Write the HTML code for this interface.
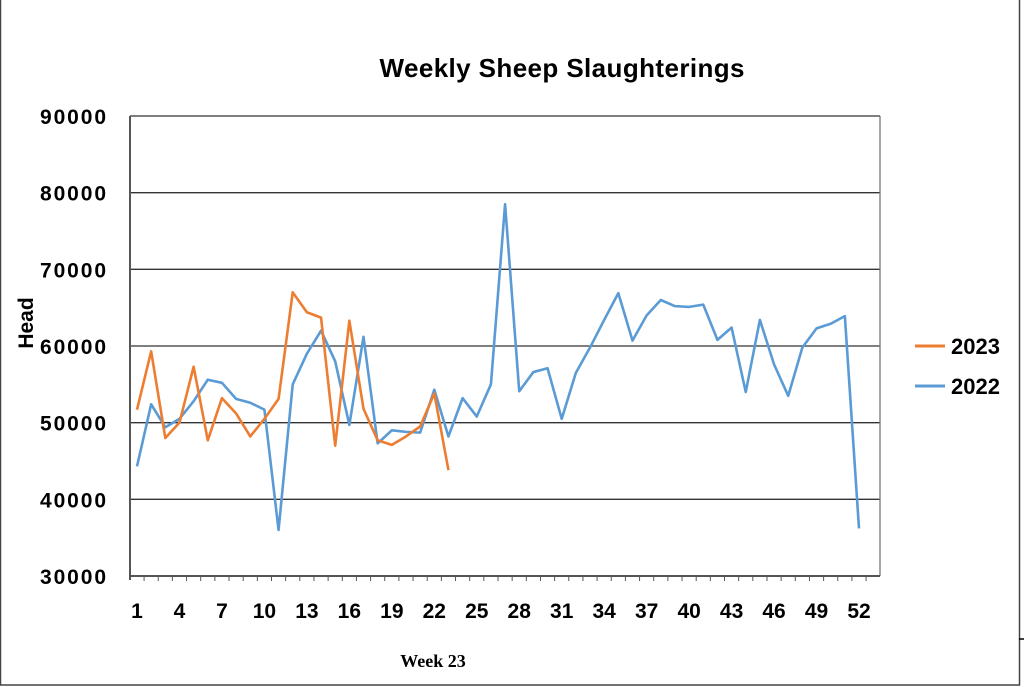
<!DOCTYPE html>
<html><head><meta charset="utf-8"><style>
body{margin:0;background:#fff;}
svg{display:block;font-family:"Liberation Sans",sans-serif;}
</style></head><body>
<svg id="c" width="1024" height="687">
<rect x="0.5" y="-1" width="1019" height="686" fill="none" stroke="#444" stroke-width="1.5"/>
<line x1="1019" y1="639" x2="1024" y2="639" stroke="#000" stroke-width="1.5"/>
<text x="562" y="77" font-size="26" font-weight="bold" text-anchor="middle" textLength="365">Weekly Sheep Slaughterings</text>
<text transform="translate(33,323) rotate(-90)" font-size="21" font-weight="bold" text-anchor="middle">Head</text>
<text x="433" y="667" font-size="18" font-weight="bold" font-family="Liberation Serif,serif" text-anchor="middle">Week 23</text>
<g id="grid"></g><g id="ticks"></g><g id="series"></g>
<g>
<line x1="915" y1="346" x2="945" y2="346" stroke="#ED7D31" stroke-width="3"/>
<text x="951" y="354" font-size="22" font-weight="bold">2023</text>
<line x1="915" y1="386" x2="945" y2="386" stroke="#5B9BD5" stroke-width="3"/>
<text x="951" y="394" font-size="22" font-weight="bold">2022</text>
</g>
</svg>
<script>
const yTicks=[30000,40000,50000,60000,70000,80000,90000];
const xTickLabels=[1,4,7,10,13,16,19,22,25,28,31,34,37,40,43,46,49,52];
const s2023=[51700,59300,48000,50000,57300,47700,53200,51200,48200,50500,53100,67000,64400,63700,47000,63300,51800,47700,47100,48200,49500,53800,43800];
const s2022=[44300,52400,49400,50500,52800,55600,55200,53100,52600,51700,36000,55000,59000,62000,58000,49700,61200,47300,49000,48800,48700,54300,48200,53200,50800,55000,78500,54100,56600,57100,50500,56500,59800,63400,66900,60700,64000,66000,65200,65100,65400,60800,62400,54000,63400,57600,53500,59800,62300,62900,63900,36200];
const NS='http://www.w3.org/2000/svg';
const L=130,R=880,T=116,B=576;
const y=v=>B-(v-30000)/60000*(B-T);
const x=w=>137+(w-1)*(859-137)/51;
function mk(t,a,p){const e=document.createElementNS(NS,t);for(const k in a)e.setAttribute(k,a[k]);p.appendChild(e);return e;}
const g=document.getElementById('grid'),tk=document.getElementById('ticks'),sg=document.getElementById('series');
yTicks.forEach(v=>{
 const ln=mk('line',{x1:L,x2:R,y1:y(v),y2:y(v),stroke:'#333','stroke-width':1.3},g);
 
 
 const t=mk('text',{x:106,y:y(v)+8,'font-size':21,'font-weight':'bold','text-anchor':'end',textLength:66},tk);
 t.textContent=v;
 
 
});
mk('line',{x1:R,x2:R,y1:T,y2:B,stroke:'#777','stroke-width':1.3},g);
const ya=mk('line',{x1:L,x2:L,y1:T,y2:B+4,stroke:'#555','stroke-width':2},g);


const xa=mk('line',{x1:L,x2:R,y1:B,y2:B,stroke:'#555','stroke-width':2},g);


for(let w=1;w<=53;w++){const xx=137+(w-1.5)*(859-137)/51;if(xx>=L&&xx<=R+1)mk('line',{x1:xx,x2:xx,y1:B,y2:B+5,stroke:'#555','stroke-width':1},g);}
xTickLabels.forEach(w=>{
 const t=mk('text',{x:x(w),y:618,'font-size':21,'font-weight':'bold','text-anchor':'middle'},tk);
 t.textContent=w;
 
 
});
function line(data,color,name){
 const p=mk('polyline',{points:data.map((v,i)=>x(i+1)+','+y(v)).join(' '),fill:'none',stroke:color,'stroke-width':2.6,'stroke-linejoin':'round'},sg);
 
 
}
line(s2022,'#5B9BD5','series-2022');
line(s2023,'#ED7D31','series-2023');
</script>
</body></html>
